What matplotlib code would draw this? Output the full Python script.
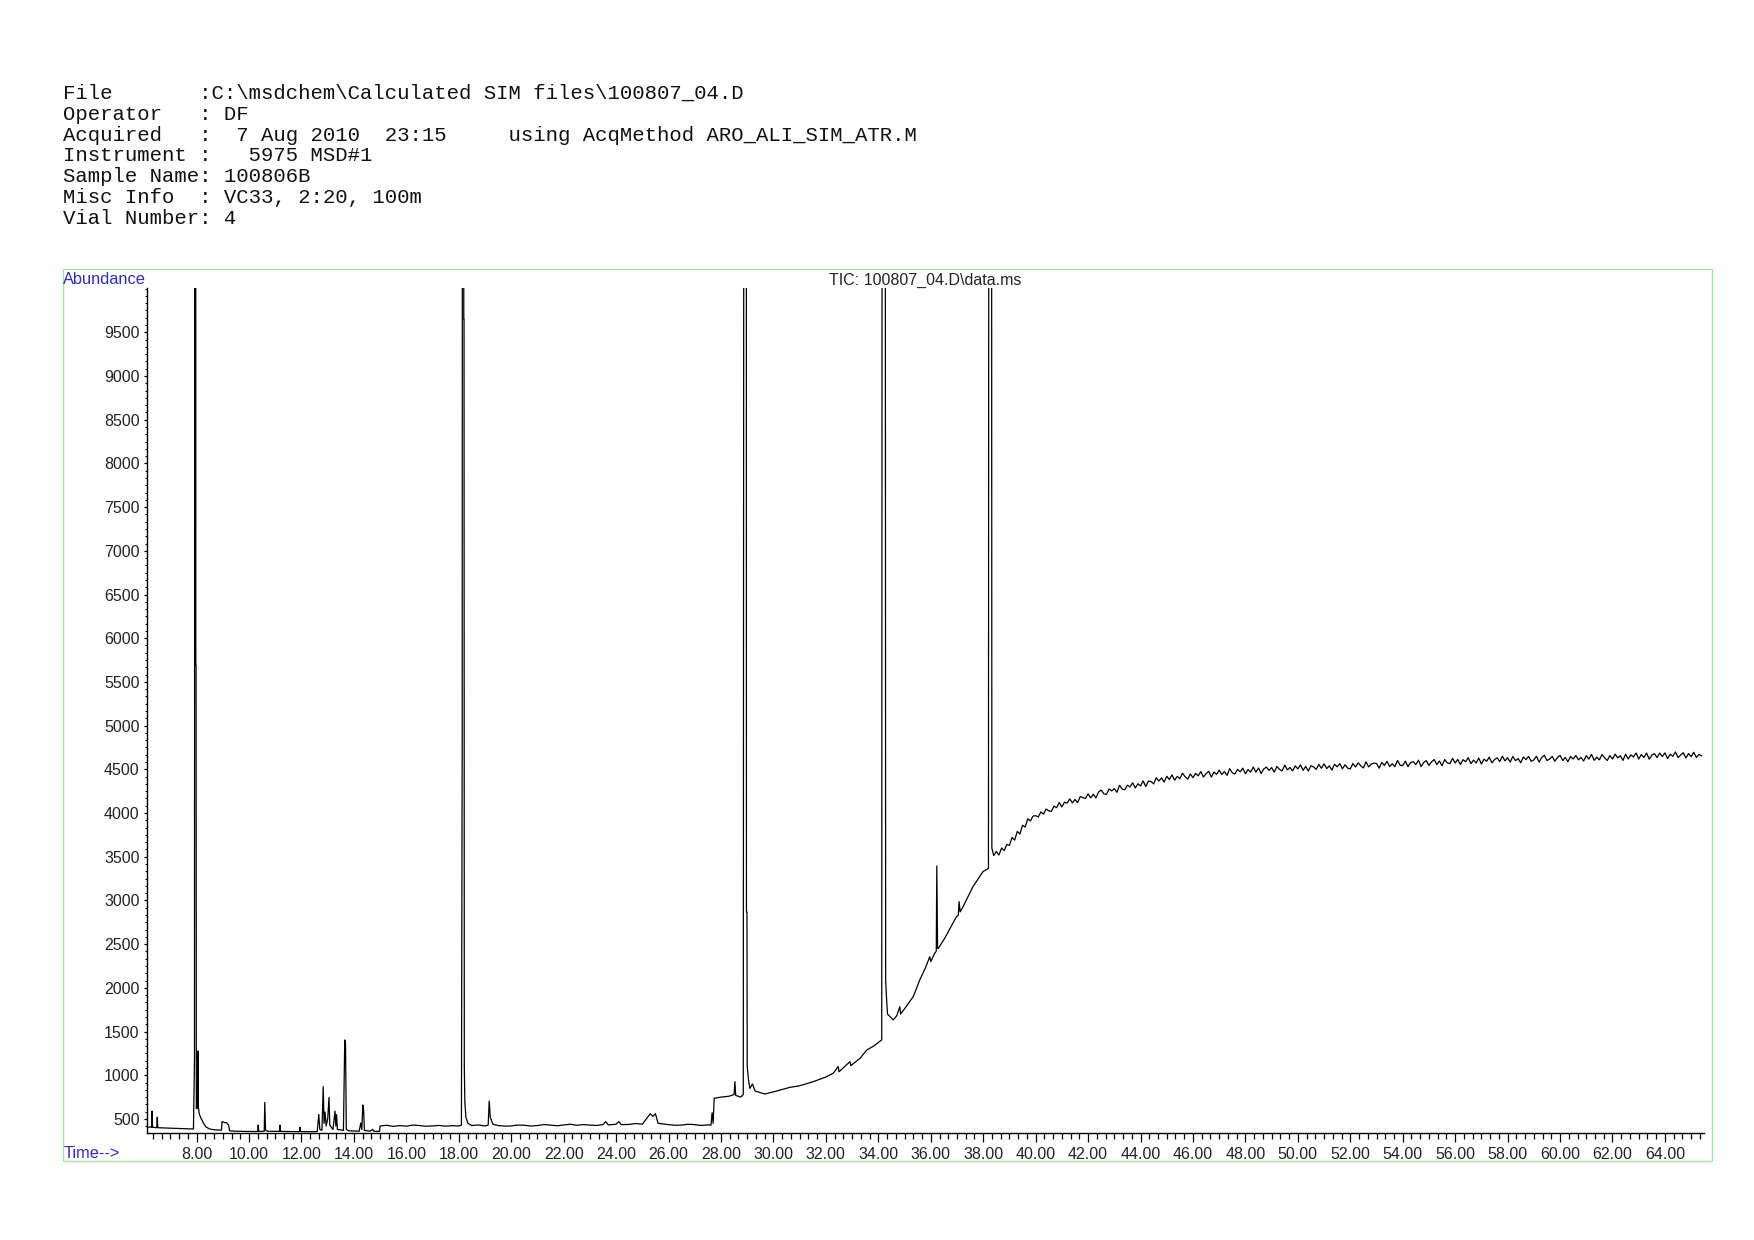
import numpy as np
import matplotlib
matplotlib.use("Agg")
import matplotlib.pyplot as plt
from matplotlib.patches import Rectangle
from matplotlib.ticker import MultipleLocator

# header lines of the report
header_lines = [
    "File       :C:\\msdchem\\Calculated SIM files\\100807_04.D",
    "Operator   : DF",
    "Acquired   :  7 Aug 2010  23:15     using AcqMethod ARO_ALI_SIM_ATR.M",
    "Instrument :   5975 MSD#1",
    "Sample Name: 100806B",
    "Misc Info  : VC33, 2:20, 100m",
    "Vial Number: 4",
]
trace_title = "TIC: 100807_04.D\\data.ms"

# TIC trace (time in min, abundance); 30000 = off scale
early_t = [6.12, 6.28, 6.30, 6.32, 6.48, 6.50, 6.52, 7.0, 7.5, 7.88, 7.92, 7.94, 7.96, 7.97,
           7.98, 7.99, 8.03, 8.05, 8.07, 8.10, 8.15, 8.25, 8.35, 8.5, 8.7, 8.95, 8.97, 9.05,
           9.15, 9.22, 9.26, 9.5, 10.0, 10.33, 10.35, 10.37, 10.58, 10.60, 10.63, 10.7, 11.16,
           11.18, 11.2, 11.92, 11.94, 11.96, 12.6, 12.66, 12.70, 12.78, 12.83, 12.86, 12.9,
           12.94, 13.0, 13.05, 13.08, 13.2, 13.28, 13.31, 13.34, 13.37, 13.6, 13.65, 13.68,
           13.71, 13.8, 14.2, 14.26, 14.30, 14.34, 14.37, 14.40, 14.6, 14.72, 14.75, 14.98]
early_v = [410, 405, 590, 405, 400, 520, 400, 395, 390, 385, 1183, 30000, 30000, 5690,
           5690, 620, 620, 1278, 640, 560, 520, 460, 410, 385, 375, 372, 470, 460,
           455, 430, 365, 360, 357, 357, 431, 357, 360, 690, 370, 360, 358,
           430, 358, 355, 405, 355, 355, 553, 380, 370, 870, 450, 580,
           420, 500, 748, 430, 380, 590, 420, 550, 380, 370, 1404, 1360,
           380, 365, 360, 453, 380, 660, 600, 370, 360, 380, 360, 358]

mid_t = [15.0, 15.25, 15.5, 15.75, 16.0, 16.25, 16.5, 16.75, 17.0, 17.25, 17.5, 17.75, 18.0,
         18.10, 18.13, 18.15, 18.18, 18.19, 18.20, 18.21, 18.23, 18.27, 18.35, 18.5, 18.75,
         19.0, 19.12, 19.16, 19.2, 19.3, 19.5, 19.75, 20.0, 20.25, 20.5, 20.75, 21.0, 21.25,
         21.5, 21.75, 22.0, 22.25, 22.5, 22.75, 23.0, 23.25, 23.5, 23.6, 23.7, 24.0, 24.1,
         24.2, 24.5, 24.75, 25.0, 25.2, 25.3, 25.4, 25.5, 25.6, 25.8, 26.0, 26.25, 26.5,
         26.75, 27.0, 27.25, 27.5, 27.62]
mid_v = [420, 428, 415, 424, 418, 430, 425, 417, 420, 426, 418, 423, 420,
         430, 4900, 30000, 30000, 9650, 9650, 1100, 700, 520, 450, 425, 432,
         420, 430, 706, 520, 440, 425, 418, 420, 431, 428, 419, 425, 436,
         430, 422, 432, 440, 428, 436, 430, 426, 435, 470, 432, 440, 470,
         435, 438, 448, 440, 520, 560, 530, 560, 450, 442, 435, 428, 430,
         440, 435, 426, 432, 430]

late_t = [27.66, 27.70, 27.74, 28.0, 28.3, 28.5, 28.53, 28.56, 28.75, 28.85, 28.90, 28.96,
          28.97, 28.99, 29.0, 29.05, 29.1, 29.2, 29.3, 29.67, 30.0, 30.63, 31.0, 31.52, 32.0,
          32.28, 32.47, 32.5, 32.92, 32.95, 33.3, 33.56, 33.8, 34.13, 34.17, 34.24, 34.28,
          34.31, 34.35, 34.57, 34.7, 34.82, 34.85, 35.07, 35.33, 35.58, 35.8, 35.96, 36.0,
          36.15, 36.21, 36.23, 36.26, 36.29, 36.53, 36.98, 37.05, 37.08, 37.12, 37.23, 37.61,
          37.99, 38.2, 38.24, 38.30, 38.33, 38.40, 38.5, 38.6, 38.7, 38.8, 38.9, 39.0, 39.1,
          39.2, 39.3, 39.4, 39.5, 39.6, 39.7, 39.8, 39.9]
late_v = [572, 450, 737, 750, 760, 780, 927, 770, 750, 780, 30000, 30000,
          2870, 2870, 1100, 946, 850, 900, 820, 786, 810, 862, 880, 927, 980,
          1023, 1100, 1040, 1156, 1110, 1194, 1289, 1330, 1404, 30000, 30000, 2090,
          1900, 1700, 1633, 1680, 1785, 1700, 1790, 1899, 2090, 2230, 2357, 2300,
          2395, 2420, 3394, 2452, 2452, 2567, 2814, 2830, 2986, 2870, 2928, 3158,
          3329, 3367, 30000, 30000, 3600, 3513, 3560, 3520, 3600, 3570, 3640, 3630, 3720,
          3690, 3790, 3760, 3860, 3840, 3935, 3910, 3965]

# plateau after 40 min, one reading every 0.1 min (rows of one minute)
tail_t = np.round(np.arange(40.0, 65.45, 0.1), 2)
tail_v = [3970, 3954, 4013, 3987, 4046, 4025, 4019, 4078, 4062, 4121,
          4070, 4124, 4113, 4162, 4116, 4155, 4119, 4188, 4177, 4166,
          4220, 4173, 4215, 4173, 4240, 4263, 4220, 4213, 4275, 4253,
          4280, 4237, 4318, 4275, 4266, 4318, 4299, 4346, 4287, 4334,
          4310, 4367, 4303, 4365, 4361, 4333, 4404, 4366, 4402, 4354,
          4420, 4384, 4437, 4376, 4419, 4393, 4456, 4415, 4388, 4447,
          4405, 4453, 4426, 4474, 4412, 4450, 4478, 4411, 4469, 4442,
          4490, 4442, 4474, 4431, 4508, 4460, 4447, 4499, 4471, 4513,
          4450, 4497, 4469, 4526, 4468, 4515, 4452, 4504, 4526, 4488,
          4520, 4467, 4533, 4500, 4481, 4548, 4494, 4521, 4482, 4539,
          4505, 4551, 4488, 4534, 4480, 4542, 4528, 4499, 4556, 4512,
          4563, 4509, 4540, 4492, 4558, 4529, 4565, 4506, 4553, 4514,
          4505, 4566, 4527, 4574, 4540, 4516, 4587, 4528, 4560, 4571,
          4567, 4513, 4579, 4545, 4591, 4532, 4564, 4530, 4601, 4547,
          4543, 4594, 4530, 4577, 4588, 4554, 4605, 4531, 4578, 4599,
          4545, 4586, 4612, 4554, 4595, 4541, 4612, 4573, 4565, 4626,
          4572, 4613, 4555, 4611, 4587, 4634, 4565, 4606, 4573, 4629,
          4560, 4616, 4592, 4639, 4575, 4611, 4632, 4588, 4650, 4596,
          4632, 4583, 4648, 4599, 4624, 4575, 4641, 4611, 4647, 4592,
          4608, 4649, 4584, 4635, 4661, 4601, 4617, 4648, 4593, 4634,
          4660, 4601, 4636, 4587, 4647, 4618, 4659, 4609, 4635, 4595,
          4656, 4617, 4672, 4603, 4639, 4609, 4670, 4631, 4601, 4657,
          4618, 4674, 4630, 4656, 4602, 4673, 4619, 4665, 4641, 4687,
          4618, 4669, 4635, 4686, 4617, 4663, 4679, 4635, 4686, 4647,
          4688, 4623, 4673, 4649, 4699, 4634, 4664, 4690, 4630, 4680,
          4645, 4695, 4635, 4670, 4655]

x_ticks = np.arange(8, 65, 2)
y_ticks = np.arange(500, 10000, 500)

time = np.concatenate([early_t, mid_t, late_t, tail_t])
abundance = np.concatenate([early_v, mid_v, late_v, tail_v])

W, H = 1754, 1240
fig = plt.figure(figsize=(W / 100, H / 100), dpi=100)

# header block in monospace
for i, line in enumerate(header_lines):
    fig.text(62.6 / W, 1 - (99 + 20.8 * i) / H, line, family="Liberation Mono",
             fontsize=14.9, va="baseline", ha="left", color="#111111")

# green frame around the plot area
fig.patches.append(Rectangle((62.7 / W, 1 - 1160.7 / H), (1712.3 - 62.7) / W, (1160.7 - 269.3) / H,
                             transform=fig.transFigure, fill=False, edgecolor="#a6e3a6", lw=1.0))

ax = fig.add_axes([147.3 / W, 1 - 1132.7 / H, (1704 - 147.3) / W, (1132.7 - 288.3) / H])
ax.plot(time, abundance, color="black", lw=0.9)

ax.set_xlim(6.12, 65.49)
ax.set_ylim(343, 10003)
ax.set_xticks(x_ticks)
ax.set_xticklabels([f"{t:.2f}" for t in x_ticks])
ax.set_yticks(y_ticks)
ax.xaxis.set_minor_locator(MultipleLocator(1 / 3))
ax.yaxis.set_minor_locator(MultipleLocator(500 / 6))

for s in ("top", "right"):
    ax.spines[s].set_visible(False)
for s in ("left", "bottom"):
    ax.spines[s].set_linewidth(1.0)

ax.tick_params(axis="x", which="major", length=6.5, width=0.9, pad=3.5,
               labelsize=11.5, labelcolor="#222222")
ax.tick_params(axis="x", which="minor", length=4.5, width=0.9)
ax.tick_params(axis="y", which="major", length=2.5, width=0.9, pad=3,
               labelsize=11.5, labelcolor="#222222")
ax.tick_params(axis="y", which="minor", length=1.2, width=0.8)
for lab in ax.get_xticklabels() + ax.get_yticklabels():
    lab.set_family("Liberation Sans")

fig.text(63.3 / W, 1 - 280 / H, "Abundance", family="Liberation Sans", fontsize=11.8,
         color="#2b2bd0", va="center", ha="left")
fig.text(63.3 / W, 1 - 1154 / H, "Time-->", family="Liberation Sans", fontsize=11.8,
         color="#2b2bd0", va="center", ha="left")
fig.text(924.7 / W, 1 - 280 / H, trace_title, family="Liberation Sans", fontsize=11.5,
         color="#222222", va="center", ha="center")

fig.savefig("out.png", dpi=100, facecolor="white")
